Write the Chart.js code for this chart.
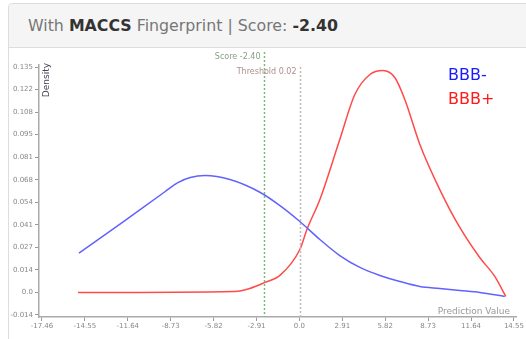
<!DOCTYPE html>
<html>
<head>
<meta charset="utf-8">
<script src="https://cdn.jsdelivr.net/npm/chart.js@4/dist/chart.umd.min.js"></script>
<style>
  html, body { margin: 0; padding: 0; width: 526px; height: 339px; overflow: hidden; background: #fff; }
  .card { position: absolute; left: 8px; top: 3px; width: 540px; height: 360px; border: 1px solid #ddd; border-radius: 4px; background: #fff; }
  .card-head { height: 43px; background: #f5f5f5; border-bottom: 1px solid #ddd; border-radius: 4px 4px 0 0;
    font-family: "DejaVu Sans", sans-serif; font-size: 15.8px; color: #777; line-height: 43px; padding-left: 19px; }
  .card-head b { color: #333; font-weight: 700; }
  #chart { position: absolute; left: 0; top: 0; width: 526px; height: 339px; }
</style>
</head>
<body>
<div class="card">
  <div class="card-head">With <b>MACCS</b> Fingerprint | Score: <b>-2.40</b></div>
</div>
<canvas id="chart" width="526" height="339"></canvas>
<script>
// Density curves of the prediction value for each class
const bbbMinusX = [-14.95, -12.0, -9.12, -8.24, -7.40, -6.41, -4.71, -2.68, -1.32, 0.03, 1.39, 2.74, 4.10, 5.46, 6.81, 8.17, 9.52, 10.88, 12.23, 13.93];
const bbbMinusY = [0.0235, 0.0420, 0.0603, 0.0658, 0.0688, 0.0700, 0.0676, 0.0600, 0.0520, 0.0425, 0.0317, 0.0221, 0.0150, 0.0102, 0.0066, 0.0036, 0.0024, 0.0012, 0.0000, -0.0024];

const bbbPlusX = [-15.02, -4.38, -3.36, -2.34, -1.32, 0.03, 0.51, 1.39, 2.74, 3.76, 4.78, 5.66, 6.47, 7.15, 8.17, 9.52, 10.88, 12.23, 13.25, 14.0];
const bbbPlusY = [0.0, 0.0006, 0.0024, 0.0060, 0.0102, 0.0257, 0.0377, 0.0557, 0.0916, 0.1185, 0.1305, 0.1329, 0.1287, 0.1155, 0.0886, 0.0616, 0.0389, 0.0209, 0.0096, -0.0024];

const seriesNames = ['BBB-', 'BBB+'];
const lineColors = ['#6262ff', '#ff4a4a'];
const legendColors = ['#1a1aff', '#ff1a1a'];

// Axis ticks
const xTicks = [-17.46, -14.55, -11.64, -8.73, -5.82, -2.91, 0.0, 2.91, 5.82, 8.73, 11.64, 14.55];
const xTickLabels = ['-17.46', '-14.55', '-11.64', '-8.73', '-5.82', '-2.91', '0.0', '2.91', '5.82', '8.73', '11.64', '14.55'];
const yTicks = [-0.0135, 0.0, 0.0135, 0.027, 0.0405, 0.054, 0.0675, 0.081, 0.0945, 0.108, 0.1215, 0.135];
const yTickLabels = ['-0.014', '0.0', '0.014', '0.027', '0.041', '0.054', '0.068', '0.081', '0.095', '0.108', '0.122', '0.135'];

// Reference markers
const score = -2.40;
const threshold = 0.02;

const toPoints = (xs, ys) => xs.map((x, i) => ({ x: x, y: ys[i] }));

const markerPlugin = {
  id: 'markers',
  afterDatasetsDraw(chart) {
    const { ctx, scales: { x, y }, chartArea } = chart;
    ctx.save();
    ctx.lineWidth = 1.5;
    // score line
    const sx = Math.round(x.getPixelForValue(score)) + 0.5;
    ctx.strokeStyle = '#77bb77';
    ctx.setLineDash([2, 2]);
    ctx.beginPath(); ctx.moveTo(sx, 52); ctx.lineTo(sx, chartArea.bottom); ctx.stroke();
    // threshold line
    const tx = Math.round(x.getPixelForValue(threshold)) + 0.5;
    ctx.strokeStyle = '#bbbbbb';
    ctx.beginPath(); ctx.moveTo(tx, 67); ctx.lineTo(tx, chartArea.bottom); ctx.stroke();
    ctx.setLineDash([]);
    ctx.font = '8px "DejaVu Sans", sans-serif';
    ctx.textAlign = 'right';
    ctx.textBaseline = 'middle';
    ctx.fillStyle = '#86a086';
    ctx.fillText('Score ' + score.toFixed(2), sx - 4, 57);
    ctx.fillStyle = '#ae8e8e';
    ctx.fillText('Threshold ' + threshold.toFixed(2), tx - 4, 72);

    // axis titles
    ctx.fillStyle = '#445';
    ctx.font = '9px "DejaVu Sans", sans-serif';
    ctx.save();
    ctx.translate(42, 63);
    ctx.rotate(-Math.PI / 2);
    ctx.textAlign = 'right';
    ctx.textBaseline = 'top';
    ctx.fillText('Density', 0, 0);
    ctx.restore();
    ctx.fillStyle = '#999';
    ctx.textAlign = 'right';
    ctx.textBaseline = 'alphabetic';
    ctx.fillText('Prediction Value', 510, 314);

    // legend
    ctx.font = '16px "DejaVu Sans", sans-serif';
    ctx.textAlign = 'left';
    ctx.textBaseline = 'middle';
    chart.data.datasets.forEach((ds, i) => {
      ctx.fillStyle = legendColors[i];
      ctx.fillText(ds.label, 448, 76 + i * 24);
    });
    ctx.restore();
  }
};

new Chart(document.getElementById('chart'), {
  type: 'line',
  data: {
    datasets: [
      { label: seriesNames[0], data: toPoints(bbbMinusX, bbbMinusY), borderColor: lineColors[0], borderWidth: 1.5, pointRadius: 0, cubicInterpolationMode: 'monotone', fill: false },
      { label: seriesNames[1], data: toPoints(bbbPlusX, bbbPlusY), borderColor: lineColors[1], borderWidth: 1.5, pointRadius: 0, cubicInterpolationMode: 'monotone', fill: false }
    ]
  },
  options: {
    responsive: false,
    animation: false,
    events: [],
    layout: { padding: { top: 65, right: 10, left: 0, bottom: 0 } },
    plugins: { legend: { display: false }, tooltip: { enabled: false } },
    scales: {
      x: {
        type: 'linear',
        min: -17.66, max: 14.69,
        afterBuildTicks: s => { s.ticks = xTicks.map(v => ({ value: v })); },
        afterFit: s => { s.height = 22; },
        grid: { display: true, drawOnChartArea: false, drawTicks: true, tickLength: 4, color: '#999', tickColor: '#999' },
        border: { color: '#aaa', width: 1.5 },
        ticks: {
          autoSkip: false, maxRotation: 0, padding: 1,
          color: '#888', font: { family: 'DejaVu Sans', size: 7 },
          callback: (v, i) => xTickLabels[i]
        }
      },
      y: {
        type: 'linear',
        min: -0.0147, max: 0.1362,
        afterBuildTicks: s => { s.ticks = yTicks.map(v => ({ value: v })); },
        afterFit: s => { s.width = 39; },
        grid: { display: true, drawOnChartArea: false, drawTicks: true, tickLength: 4, color: '#999', tickColor: '#999' },
        border: { color: '#aaa', width: 1.5 },
        ticks: {
          autoSkip: false, padding: 2,
          color: '#888', font: { family: 'DejaVu Sans', size: 7 },
          callback: (v, i) => yTickLabels[i]
        }
      }
    }
  },
  plugins: [markerPlugin]
});
</script>
</body>
</html>
